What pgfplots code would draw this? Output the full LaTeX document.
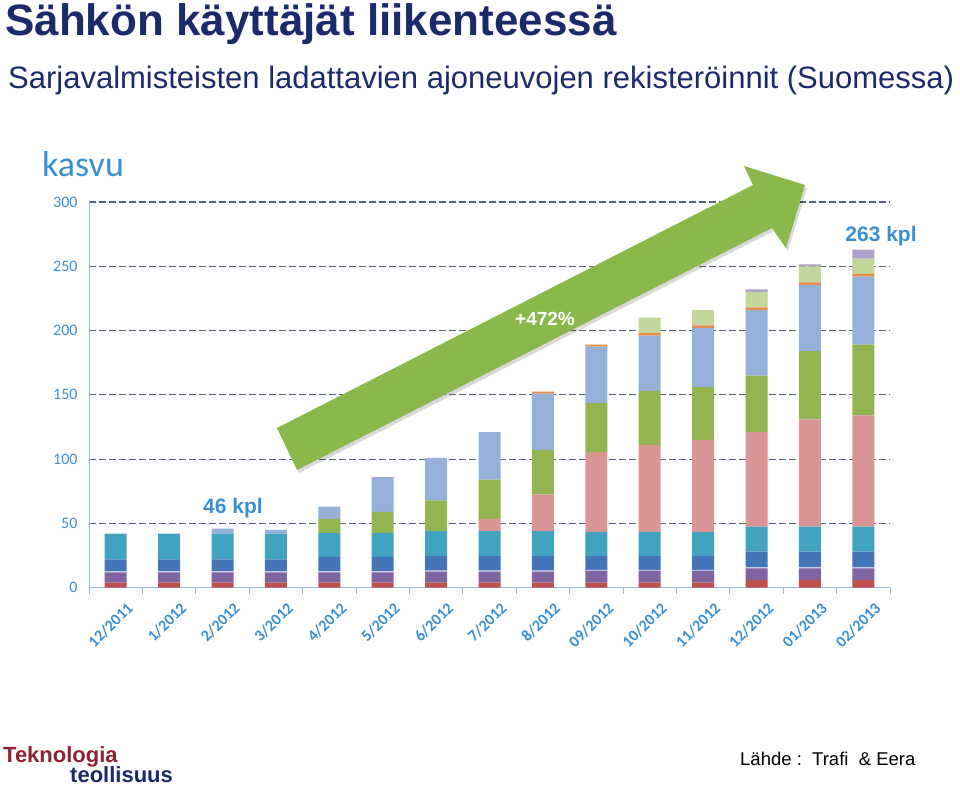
\documentclass[border=0pt]{standalone}
\usepackage{pgfplots}
\pgfplotsset{compat=1.18}
\usepackage{pgfplotstable}
\usepackage{fontspec}
\setmainfont{Liberation Sans}
\newfontfamily\calibri{Carlito}

\definecolor{navy}{HTML}{1B2A6B}
\definecolor{tickblue}{HTML}{3A8FD4}
\definecolor{axisblue}{HTML}{95B8DC}
\definecolor{gridc}{HTML}{56657C}
\definecolor{arrowgreen}{HTML}{8BB84A}
\definecolor{logored}{HTML}{8C2233}
\definecolor{cred}{HTML}{C0504D}
\definecolor{cpurple}{HTML}{8064A2}
\definecolor{csep}{HTML}{C5CFE6}
\definecolor{cblue}{HTML}{4375B8}
\definecolor{cteal}{HTML}{42A3C0}
\definecolor{cpink}{HTML}{D99694}
\definecolor{cgreen}{HTML}{92B451}
\definecolor{clblue}{HTML}{95B0D9}
\definecolor{corange}{HTML}{E88B45}
\definecolor{clgreen}{HTML}{C3D69B}
\definecolor{clav}{HTML}{AFA2CA}

% registrations per month, one column per segment of the stack
\pgfplotstableread{
x  red purple sep blue teal pink green lblue orange lgreen lav
0  4   8     0.8  9.2  20   0    0     0     0     0     0
1  4   8     0.8  9.2  20   0    0     0     0     0     0
2  4   8     0.8  9.2  20   0    0     4     0     0     0
3  4   8     0.8  9.2  20   0    0     3     0     0     0
4  4   8     0.8  11.2 18.5 0    11    9.5   0     0     0
5  4   8     0.8  11.2 18.5 0    16.5  27    0     0     0
6  4   8.5   0.8  11.2 19.5 0    24    33    0     0     0
7  4   8.5   0.8  11.2 19.5 9.5  30.5  37    0     0     0
8  4   8.5   0.8  11.2 19.5 28.5 34.5  44    1.5   0     0
9  4   9     0.8  10.7 19   62   38    44    1.5   0     0
10 4   9     0.8  10.7 19   67.5 42    43    2     12    0
11 4   9     0.8  10.7 19   71.5 41    46    2     12    0
12 6   9     0.8  12.2 19.5 73.5 44    51    2     12    2
13 6   9     0.8  12.2 19.5 83.5 53    51.5  2     12.5  1.5
14 6   9     0.8  12.2 19.5 86.5 55    53    2     12    7
}\regs

\begin{document}
\begin{tikzpicture}
\path[use as bounding box] (0pt,0pt) rectangle (960pt,786pt);

\node[anchor=base west, inner sep=0, text=navy, font=\bfseries\fontsize{44}{44}\selectfont]
  at (5pt,750pt) {Sähkön käyttäjät liikenteessä};
\node[anchor=base west, inner sep=0, text=navy, font=\fontsize{31}{31}\selectfont]
  at (8pt,697pt) {Sarjavalmisteisten ladattavien ajoneuvojen rekisteröinnit (Suomessa)};
\node[anchor=base west, inner sep=0, text=tickblue, font=\calibri\fontsize{36}{36}\selectfont]
  at (42pt,609pt) {kasvu};

\begin{axis}[
  at={(89pt,198.3pt)}, anchor=south west,
  scale only axis, width=801pt, height=385.7pt,
  ybar stacked, bar width=22pt,
  xmin=-0.5, xmax=14.5, ymin=0, ymax=300,
  ytick={0,50,...,300},
  xtick={0,...,14},
  xticklabels={12/2011,1/2012,2/2012,3/2012,4/2012,5/2012,6/2012,7/2012,8/2012,09/2012,10/2012,11/2012,12/2012,01/2013,02/2013},
  minor xtick={-0.5,0.5,...,14.5},
  major tick length=0pt, minor tick length=6pt, tick align=outside,
  axis x line*=bottom, axis y line*=left,
  axis line style={draw=axisblue, line width=1pt, -},
  ymajorgrids,
  major grid style={dash pattern=on 7pt off 3pt, draw=gridc, line width=1.1pt},
  minor tick style={draw=axisblue, line width=0.8pt},
  /pgf/number format/assume math mode=true,
  yticklabel style={font=\calibri\fontsize{16}{16}\selectfont, text=tickblue, xshift=-8pt},
  xticklabel style={font=\calibri\bfseries\fontsize{16}{16}\selectfont, text=tickblue,
    rotate=45, anchor=east, xshift=1pt, yshift=-23pt},
]
\addplot[fill=cred, draw=none] table[x=x,y=red]{\regs};
\addplot[fill=cpurple, draw=none] table[x=x,y=purple]{\regs};
\addplot[fill=csep, draw=none] table[x=x,y=sep]{\regs};
\addplot[fill=cblue, draw=none] table[x=x,y=blue]{\regs};
\addplot[fill=cteal, draw=none] table[x=x,y=teal]{\regs};
\addplot[fill=cpink, draw=none] table[x=x,y=pink]{\regs};
\addplot[fill=cgreen, draw=none] table[x=x,y=green]{\regs};
\addplot[fill=clblue, draw=none] table[x=x,y=lblue]{\regs};
\addplot[fill=corange, draw=none] table[x=x,y=orange]{\regs};
\addplot[fill=clgreen, draw=none] table[x=x,y=lgreen]{\regs};
\addplot[fill=clav, draw=none] table[x=x,y=lav]{\regs};
\end{axis}

% growth arrow
\fill[black, opacity=0.15] (279pt,355pt) -- (755pt,598pt) -- (746pt,617pt) -- (807pt,598pt)
  -- (788pt,535pt) -- (774pt,555pt) -- (299pt,313pt) -- cycle;
\fill[arrowgreen] (277pt,358pt) -- (753pt,601pt) -- (744pt,620pt) -- (805pt,601pt)
  -- (786pt,538pt) -- (772pt,558pt) -- (297pt,316pt) -- cycle;
\node[anchor=base, inner sep=0, text=white, font=\bfseries\fontsize{19}{19}\selectfont]
  at (545pt,460pt) {+472\%};

\node[anchor=base, inner sep=0, text=tickblue, font=\bfseries\fontsize{21}{21}\selectfont]
  at (233pt,272pt) {46 kpl};
\node[anchor=base, inner sep=0, text=tickblue, font=\bfseries\fontsize{21}{21}\selectfont]
  at (881pt,544pt) {263 kpl};

\node[anchor=base west, inner sep=0, text=logored, font=\bfseries\fontsize{22}{22}\selectfont]
  at (3pt,23pt) {Teknologia};
\node[anchor=base west, inner sep=0, text=navy, font=\bfseries\fontsize{22}{22}\selectfont]
  at (70pt,3pt) {teollisuus};
\node[anchor=base west, inner sep=0, text=black, font=\fontsize{18.5}{18.5}\selectfont]
  at (740pt,20pt) {Lähde :\ \ Trafi \ \& Eera};
\end{tikzpicture}
\end{document}
